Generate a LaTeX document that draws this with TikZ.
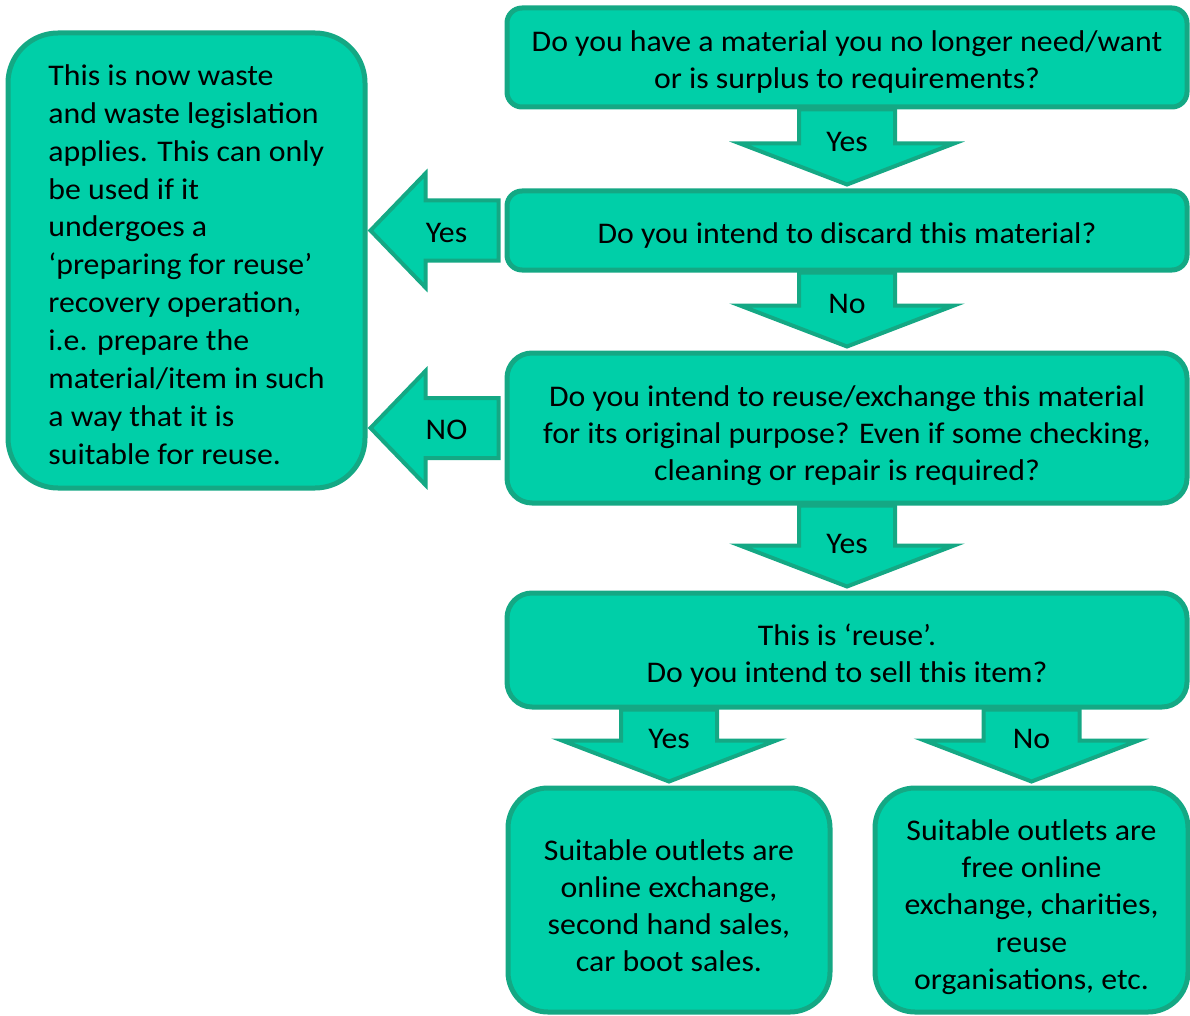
\documentclass[tikz,border=0pt]{standalone}
\usepackage{fontspec}
\setmainfont{Carlito}[FakeStretch=1.06]
\usetikzlibrary{calc}
\definecolor{tealfill}{RGB}{0,207,168}
\definecolor{tealedge}{RGB}{20,168,132}
\tikzset{
  box/.style={draw=tealedge, fill=tealfill, line width=5pt, rounded corners=#1, inner sep=0pt},
  box/.default=15pt,
  boxtxt/.style={align=center, inner sep=0pt, font=\fontsize{30}{37}\selectfont},
  blockarrow/.style={draw=tealedge, fill=tealfill, line width=4pt, line join=miter},
  lbl/.style={font=\fontsize{30}{34}\selectfont, inner sep=0pt}
}
% downward block arrow from the bottom of #1 to the top of #2
\newcommand\downblock[3]{%
  \draw[blockarrow] let \p1=(#1.south), \p2=(#2.north) in
    (\x2-48pt,\y1) -- (\x2+48pt,\y1) -- (\x2+48pt,\y2+45pt) -- (\x2+107pt,\y2+45pt)
    -- (\x2,\y2+4pt) -- (\x2-107pt,\y2+45pt) -- (\x2-48pt,\y2+45pt) -- cycle
    (\x2,\y2+47pt) node[lbl] {#3};}
% leftward block arrow from the left side of #1 to the right side of #2
\newcommand\leftblock[3]{%
  \draw[blockarrow] let \p1=(#1.west), \p2=(#2.east) in
    (\x1-6pt,\y1+30pt) -- (\x2+58pt,\y1+30pt) -- (\x2+58pt,\y1+57pt) -- (\x2+3pt,\y1)
    -- (\x2+58pt,\y1-57pt) -- (\x2+58pt,\y1-30pt) -- (\x1-6pt,\y1-30pt) -- cycle
    (\x1-58pt,\y1-2pt) node[lbl] {#3};}

\begin{document}
\begin{tikzpicture}[x=1pt,y=-1pt]
\useasboundingbox (0,0) rectangle (1190,1016);

\node[box, minimum width=680pt, minimum height=99pt,
  label={[boxtxt, yshift=-5pt]center:{Do you have a material you no longer need/want\\or is surplus to requirements?}}]
  (q1) at (847,57.5) {};
\node[box, minimum width=680pt, minimum height=79pt,
  label={[boxtxt, yshift=-5pt]center:{Do you intend to discard this material?}}]
  (q2) at (847,230.5) {};
\node[box=25pt, minimum width=680pt, minimum height=150pt,
  label={[boxtxt, yshift=-8pt]center:{Do you intend to reuse/exchange this material\\for its original purpose? Even if some checking,\\cleaning or repair is required?}}]
  (q3) at (847,428) {};
\node[box=25pt, minimum width=680pt, minimum height=114pt,
  label={[boxtxt, yshift=-6pt]center:{This is ‘reuse’.\\Do you intend to sell this item?}}]
  (q4) at (847,650) {};
\node[box=40pt, minimum width=322pt, minimum height=224pt,
  label={[boxtxt, yshift=-6pt]center:{Suitable outlets are\\online exchange,\\second hand sales,\\car boot sales.}}]
  (o1) at (669,900) {};
\node[box=40pt, minimum width=313pt, minimum height=224pt,
  label={[boxtxt, yshift=-7pt, font=\fontsize{30}{37.2}\selectfont]center:{Suitable outlets are\\free online\\exchange, charities,\\reuse\\organisations, etc.}}]
  (o2) at (1031.5,900) {};
\node[box=50pt, minimum width=357pt, minimum height=455pt,
  label={[boxtxt, align=left, yshift=-4pt, font=\fontsize{30}{37.9}\selectfont]center:{This is now waste\\and waste legislation\\applies. This can only\\be used if it\\undergoes a\\‘preparing for reuse’\\recovery operation,\\i.e. prepare the\\material/item in such\\a way that it is\\suitable for reuse.}}]
  (w) at (186.5,260.5) {};

\downblock{q1}{q2}{Yes}
\downblock{q2}{q3}{No}
\downblock{q3}{q4}{Yes}
\downblock{q4}{o1}{Yes}
\downblock{q4}{o2}{No}
\leftblock{q2}{w}{Yes}
\leftblock{q3}{w}{NO}
\end{tikzpicture}
\end{document}
